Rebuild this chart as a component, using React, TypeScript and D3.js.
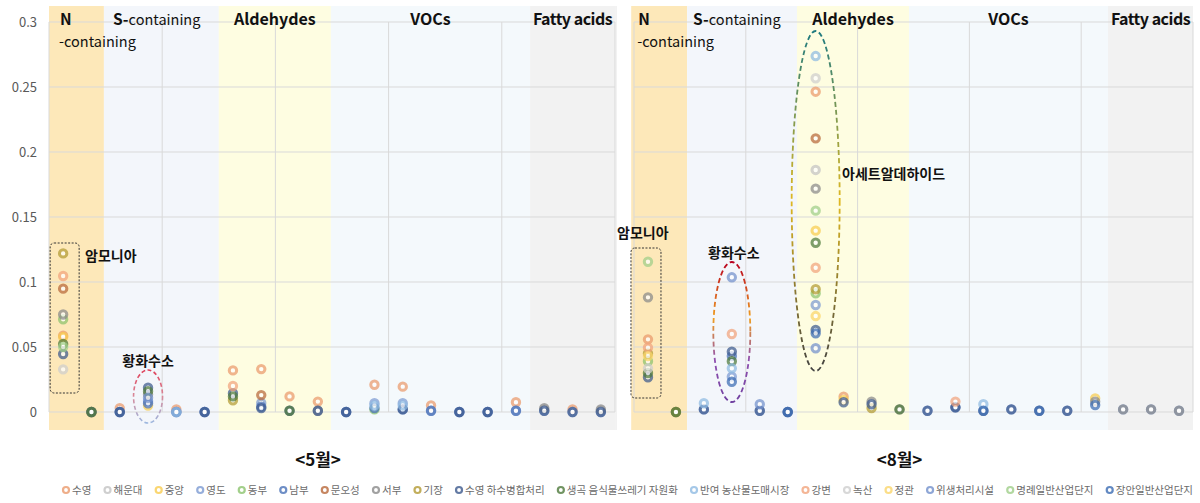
import React, { useMemo } from 'react';
import * as d3 from 'd3';

const _ = null;

const compounds = ['암모니아', '트라이메틸아민', '메틸메르캅탄', '황화수소', '다이메틸설파이드', '다이메틸다이설파이드',
  '아세트알데하이드', '프로피온알데하이드', '뷰틸알데하이드', '발레르알데하이드',
  '톨루엔', '자일렌', '메틸에틸케톤', '메틸아이소뷰틸케톤', '뷰틸아세테이트', '스타이렌', 'i-뷰틸알코올',
  '프로피온산', 'n-뷰티르산', 'n-발레르산'];

const sites = ['수영', '해운대', '중앙', '영도', '동부', '남부', '문오성', '서부', '기장', '수영 하수병합처리',
  '생곡 음식물쓰레기 자원화', '반여 농산물도매시장', '강변', '녹산', '정관', '위생처리시설', '명례일반산업단지', '장안일반산업단지'];

const siteColors = ['#eb9a6c', '#c4c4c4', '#f9cd4f', '#7d9bd3', '#8cc46e', '#4a72b8', '#b8683a', '#8a8a8a', '#b39b33',
  '#3d5a8e', '#4e7a3c', '#8fbbe3', '#f2a47d', '#cfcfcf', '#fbd66b', '#7391cd', '#9fcf89', '#3b6cb4'];

// 5월 values: one row per site, one column per compound
const mayValues: (number | null)[][] = [
  [0.0587, _, 0.003, _, 0.002, _, 0.032, 0.033, 0.012, 0.008, _, 0.021, 0.0195, 0.005, _, _, 0.0075, _, 0.002, _],
  [_, _, _, _, _, _, _, _, _, _, _, _, _, _, _, _, _, 0.002, _, 0.001],
  [0.0577, _, _, 0.005, _, _, _, _, _, _, _, _, _, _, _, _, _, _, _, _],
  [_, _, 0, 0.0085, 0, 0, _, 0.007, _, _, 0, 0.0067, 0.0067, 0.001, 0, 0, 0.001, 0.001, 0, 0],
  [0.0713, _, _, _, _, _, _, _, _, _, _, 0.002, _, _, _, _, _, _, _, _],
  [_, _, 0, 0.0067, 0, 0, _, 0.004, _, _, 0, 0.003, 0.002, 0.001, 0, 0, 0.001, _, _, _],
  [0.0949, _, _, _, _, _, _, 0.013, _, _, _, _, _, _, _, _, _, _, _, _],
  [0.075, 0, _, 0.0135, _, _, _, _, _, 0.001, _, _, _, _, _, _, _, 0.003, _, 0.002],
  [0.122, 0, _, _, _, _, 0.009, _, _, _, _, _, _, _, _, _, _, _, _, _],
  [0.0446, 0, 0, 0.0187, _, 0, 0.0144, 0.003, 0.001, 0.001, 0, _, 0.002, _, 0, 0, _, 0.001, 0, 0],
  [0.0523, 0, _, 0.016, _, _, 0.012, _, 0.001, _, _, _, _, _, _, _, _, _, _, _],
  [_, _, _, _, 0, _, _, _, _, _, _, 0.005, 0.005, _, _, _, _, _, _, _],
  [0.1046, _, _, _, _, _, 0.02, _, _, _, _, _, _, _, _, _, _, _, _, _],
  [0.0328, _, _, _, _, _, _, _, _, _, _, _, _, _, _, _, _, _, _, _],
  [_, _, _, _, _, _, _, _, _, _, _, _, _, _, _, _, _, _, _, _],
  [_, _, _, 0.011, _, _, _, _, _, _, _, _, _, _, _, _, _, _, _, _],
  [0.05, _, _, _, _, _, _, _, _, _, _, _, _, _, _, _, _, _, _, _],
  [_, _, _, _, _, _, _, _, _, _, _, _, _, _, _, _, _, _, _, _],
];

// 8월 values
const augValues: (number | null)[][] = [
  [0.0559, _, _, _, _, _, 0.2464, 0.0118, _, _, _, _, _, _, _, _, _, _, _, _],
  [_, _, _, _, _, _, 0.1862, _, _, _, _, _, _, _, _, _, _, _, _, _],
  [_, _, _, _, _, _, 0.1395, 0.0092, _, _, _, _, _, _, _, _, 0.0105, _, _, _],
  [_, _, 0.002, 0.0272, 0.001, 0, 0.0823, _, _, _, 0.001, _, _, 0.002, _, 0.001, _, 0.002, 0.002, 0.001],
  [0.039, _, _, _, _, _, 0.0913, _, _, _, _, _, _, _, _, _, _, _, _, _],
  [_, _, _, 0.043, _, _, _, _, _, _, _, 0.0036, _, _, _, _, _, _, _, _],
  [_, _, _, _, _, _, 0.2105, _, _, _, _, _, _, _, _, _, _, _, _, _],
  [0.0882, 0, _, _, _, _, 0.1718, _, 0.008, 0.002, _, _, _, _, _, _, 0.008, 0.002, 0.002, 0.001],
  [0.045, 0, _, _, _, _, 0.0944, _, 0.003, _, _, _, _, _, _, _, _, _, _, _],
  [0.0267, _, 0.002, 0.0464, 0.001, 0, 0.0631, 0.0075, 0.006, _, 0.001, 0.0036, 0.001, 0.002, 0.001, 0.001, _, _, _, _],
  [0.03, 0, _, 0.039, _, _, 0.1302, _, _, 0.002, _, _, _, _, _, _, _, _, _, _],
  [_, _, 0.0067, 0.0336, _, _, 0.2738, _, _, _, _, _, 0.006, _, _, _, _, _, _, _],
  [0.0495, _, _, 0.06, _, _, 0.111, _, _, _, _, 0.008, _, _, _, _, _, _, _, _],
  [0.0336, _, _, _, _, _, 0.2567, _, _, _, _, _, _, _, _, _, _, _, _, _],
  [0.043, _, _, _, _, _, 0.0738, _, _, _, _, _, _, _, _, _, _, _, _, _],
  [_, _, _, 0.1036, 0.006, _, 0.049, _, _, _, _, _, _, _, _, _, _, _, _, _],
  [0.1156, _, _, _, _, _, 0.1549, _, _, _, _, _, _, _, _, _, _, _, _, _],
  [_, _, _, 0.0233, _, 0, 0.0605, _, _, _, _, _, 0.001, _, 0.001, _, 0.0054, _, _, _],
];

const yTicks = [0, 0.05, 0.1, 0.15, 0.2, 0.25, 0.3];
const yTickLabels = ['0', '0.05', '0.1', '0.15', '0.2', '0.25', '0.3'];

const groupNames = ['N', 'S', 'Aldehydes', 'VOCs', 'Fatty acids'];
const groupFills = ['#fde8b9', '#f3f6fb', '#fefde1', '#f4f9fc', '#f2f2f2'];
// band edges in compound-slot units
const mayEdges = [0, 1.94, 6, 9.96, 17, 20];
const augEdges = [-0.1, 1.9, 5.83, 9.84, 16.96, 20];
const months = ['<5월>', '<8월>'];

const FONT = '"Noto Sans CJK KR", "Noto Sans", sans-serif';
const W = 1200, H = 503;

const y = d3.scaleLinear().domain([0, 0.3]).range([412, 22]);

function Panel({ x0, x1, values, edges, left, month, annot }: any) {
  const x = d3.scaleLinear().domain([0, compounds.length]).range([x0, x1]);
  const cx = (i: number) => x(i + 0.5);
  const vGrid = d3.range(0, compounds.length + 1, 4);
  return (
    <g>
      {groupNames.map((g, i) => (
        <rect key={g} x={x(edges[i])} y={6} width={x(edges[i + 1]) - x(edges[i])} height={424} fill={groupFills[i]} />
      ))}
      {yTicks.map((t) => (
        <line key={t} x1={x0} x2={x1} y1={y(t)} y2={y(t)} stroke="#d9d9d9" strokeWidth={1} />
      ))}
      {vGrid.map((v) => (
        <line key={v} x1={x(v)} x2={x(v)} y1={y(0.3)} y2={y(0)} stroke="#d9d9d9" strokeWidth={1} />
      ))}
      {left && yTicks.map((t, i) => (
        <text key={t} x={37} y={y(t)} dy="0.35em" textAnchor="end" fontSize={13} fill="#595959" fontFamily={FONT}>{yTickLabels[i]}</text>
      ))}
      {/* group labels */}
      <text x={x(edges[0]) + (left ? 11 : 7)} y={25} fontSize={15.5} fontWeight="bold" fontFamily={FONT} fill="#111">N</text>
      <text x={x(edges[0]) + (left ? 10 : 6)} y={47} fontSize={14.5} fontFamily={FONT} fill="#111">-containing</text>
      <text x={x(edges[1]) + (left ? 9 : 6)} y={25} fontSize={14.5} fontFamily={FONT} fill="#111"><tspan fontWeight="bold" fontSize={15.5}>S-</tspan>containing</text>
      <text x={(x(edges[2]) + x(edges[3])) / 2} y={25} textAnchor="middle" fontSize={16} fontWeight="bold" fontFamily={FONT} fill="#111">Aldehydes</text>
      <text x={(x(edges[3]) + x(edges[4])) / 2} y={25} textAnchor="middle" fontSize={16} fontWeight="bold" fontFamily={FONT} fill="#111">VOCs</text>
      <text x={(x(edges[4]) + x(edges[5])) / 2} y={25} textAnchor="middle" fontSize={16} fontWeight="bold" fontFamily={FONT} fill="#111" letterSpacing={-0.5}>Fatty acids</text>
      {/* points */}
      {values.map((row: (number | null)[], s: number) => (
        <g key={s}>
          {row.map((v, i) => v === null ? null : (
            <circle key={i} cx={cx(i)} cy={y(v)} r={3.7} fill="#fff" stroke={siteColors[s]} strokeWidth={3} opacity={0.72} />
          ))}
        </g>
      ))}
      {annot(x, cx)}
      <text x={(x0 + x1) / 2 - 14} y={466} textAnchor="middle" fontSize={17} fontWeight="bold" fontFamily={FONT} fill="#111">{month}</text>
    </g>
  );
}

function Legend() {
  const items = useMemo(() => {
    const ctx = document.createElement('canvas').getContext('2d')!;
    const fs = 10.5;
    ctx.font = `${fs}px ${FONT}`;
    const widths = sites.map((s) => ctx.measureText(s).width);
    const mark = 10;
    const start = 62, end = 1193;
    const total = widths.reduce((a, b) => a + b, 0) + mark * sites.length;
    const gap = (end - start - total) / (sites.length - 1);
    let pos = start;
    return sites.map((s, i) => {
      const it = { s, i, x: pos, fs };
      pos += mark + widths[i] + gap;
      return it;
    });
  }, []);
  return (
    <g>
      {items.map((it) => (
        <g key={it.s}>
          <circle cx={it.x + 4} cy={490} r={3} fill="#fff" stroke={siteColors[it.i]} strokeWidth={2.2} opacity={0.8} />
          <text x={it.x + 10} y={490} dy="0.35em" fontSize={it.fs} fill="#6b6b6b" fontFamily={FONT}>{it.s}</text>
        </g>
      ))}
    </g>
  );
}

export default function App() {
  const mayAnnot = (x: any, cx: any) => (
    <g>
      <rect x={cx(0) - 13} y={243} width={29} height={150} rx={4} fill="none" stroke="#333" strokeWidth={1} strokeDasharray="2,1.5" />
      <text x={85} y={256} dy="0.35em" fontSize={14} fontWeight="bold" fontFamily={FONT} fill="#111">암모니아</text>
      <text x={cx(3)} y={361} dy="0.35em" textAnchor="middle" fontSize={14} fontWeight="bold" fontFamily={FONT} fill="#111">황화수소</text>
      <ellipse cx={cx(3)} cy={396.5} rx={14.5} ry={26.5} fill="none" stroke="url(#gH2SMay)" strokeWidth={1.6} strokeDasharray="4,2.5" />
    </g>
  );
  const augAnnot = (x: any, cx: any) => (
    <g>
      <rect x={cx(0) - 17} y={248} width={30} height={150} rx={4} fill="none" stroke="#333" strokeWidth={1} strokeDasharray="2,1.5" />
      <text x={617} y={233} dy="0.35em" fontSize={14} fontWeight="bold" fontFamily={FONT} fill="#111">암모니아</text>
      <text x={cx(3) + 2} y={253} dy="0.35em" textAnchor="middle" fontSize={14} fontWeight="bold" fontFamily={FONT} fill="#111">황화수소</text>
      <ellipse cx={cx(3)} cy={332} rx={18.5} ry={70} fill="none" stroke="url(#gH2SAug)" strokeWidth={1.8} strokeDasharray="5,3" />
      <ellipse cx={cx(6)} cy={201} rx={24} ry={170} fill="none" stroke="url(#gAld)" strokeWidth={1.8} strokeDasharray="5,3" />
      <text x={842} y={174} dy="0.35em" fontSize={14} fontWeight="bold" fontFamily={FONT} fill="#111">아세트알데하이드</text>
    </g>
  );
  return (
    <svg width={W} height={H} style={{ position: 'absolute', left: 0, top: 0, background: '#fff' }} fontFamily={FONT}>
      <defs>
        <linearGradient id="gH2SMay" x1="0" y1="0" x2="0" y2="1">
          <stop offset="0" stopColor="#e0405a" />
          <stop offset="0.5" stopColor="#d88a9a" />
          <stop offset="1" stopColor="#9db8e0" />
        </linearGradient>
        <linearGradient id="gH2SAug" x1="0" y1="0" x2="0" y2="1">
          <stop offset="0" stopColor="#b80020" />
          <stop offset="0.4" stopColor="#f0a020" />
          <stop offset="0.7" stopColor="#9050b0" />
          <stop offset="1" stopColor="#7040a0" />
        </linearGradient>
        <linearGradient id="gAld" x1="0" y1="0" x2="0" y2="1">
          <stop offset="0" stopColor="#1e7a80" />
          <stop offset="0.5" stopColor="#e0b820" />
          <stop offset="1" stopColor="#404040" />
        </linearGradient>
      </defs>
      <rect width={W} height={H} fill="#fff" />
      <Panel x0={49} x1={615} values={mayValues} edges={mayEdges} left month={months[0]} annot={mayAnnot} />
      <line x1={616} x2={616} y1={6} y2={430} stroke="#e6e6e6" />
      <Panel x0={634} x1={1193} values={augValues} edges={augEdges} left={false} month={months[1]} annot={augAnnot} />
      <Legend />
    </svg>
  );
}
